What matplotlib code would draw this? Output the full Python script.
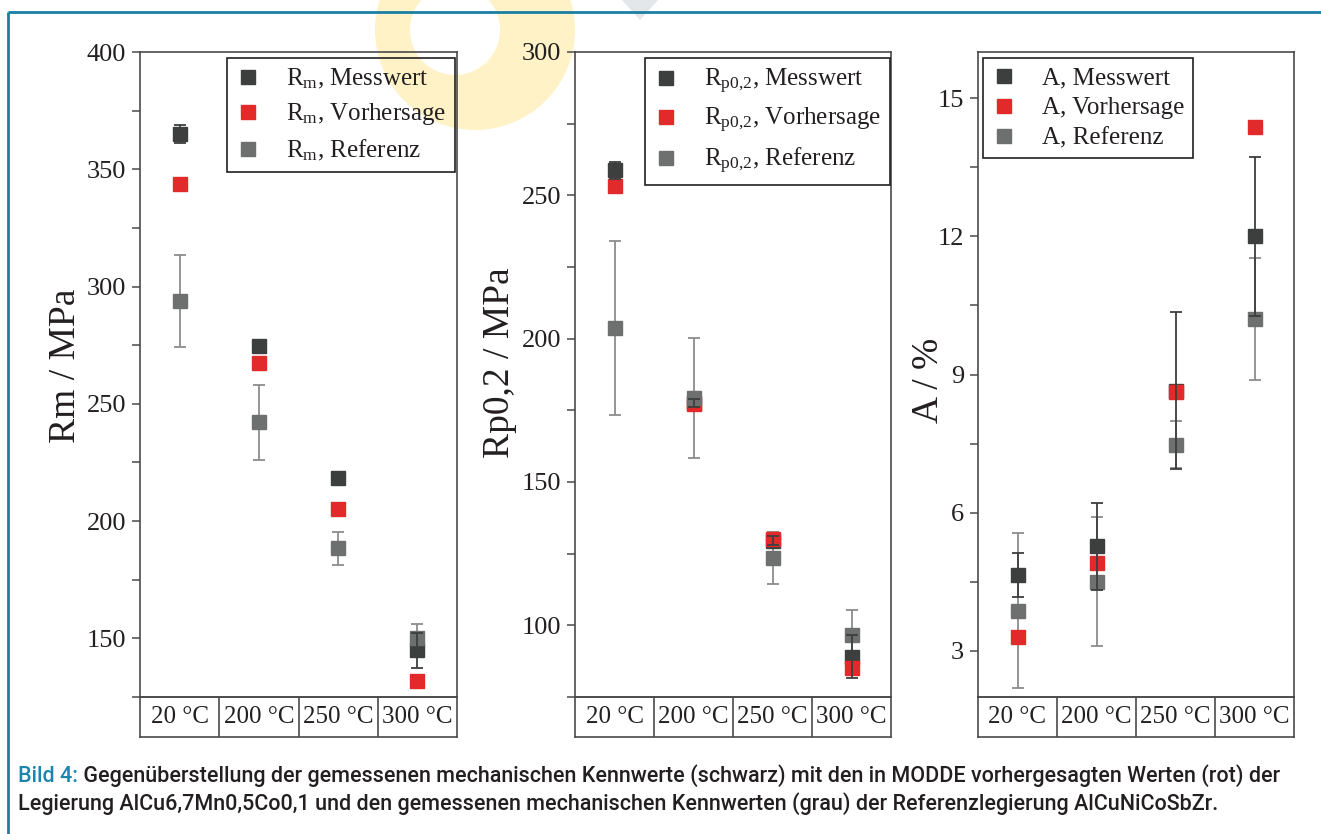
import math
import matplotlib
matplotlib.use('Agg')
import matplotlib.pyplot as plt
from matplotlib.lines import Line2D
from matplotlib.patches import Circle, Polygon

# ---------------- data ----------------
categories = ['20 °C', '200 °C', '250 °C', '300 °C']

rm_mess = [365, 274.6, 218.3, 145]
rm_mess_err = [4, 0, 0, 7.5]
rm_vor = [343.7, 267.3, 205, 132]
rm_ref = [293.8, 242.2, 188.4, 150]
rm_ref_err = [19.5, 16, 7, 6]

rp_mess = [258.8, 177.5, 129.5, 89]
rp_mess_err = [3, 1.5, 1.5, 7.5]
rp_vor = [253.2, 177.3, 130, 85]
rp_ref = [203.7, 179.2, 123.4, 96.5]
rp_ref_err = [30.5, 21, 9, 9]

a_mess = [4.65, 5.27, 8.65, 12.0]
a_mess_err = [0.48, 0.95, 1.71, 1.72]
a_vor = [3.3, 4.9, 8.63, 14.37]
a_ref = [3.87, 4.5, 7.48, 10.21]
a_ref_err = [1.68, 1.4, 0.52, 1.32]

# ---------------- style ----------------
plt.rcParams['font.family'] = ['Liberation Serif', 'DejaVu Serif']
plt.rcParams['mathtext.fontset'] = 'custom'
plt.rcParams['mathtext.rm'] = 'Liberation Serif'
plt.rcParams['mathtext.it'] = 'Liberation Serif:italic'

W, H = 1321, 834
fig = plt.figure(figsize=(W / 100, H / 100), dpi=100)

C_MESS = '#3c3f3e'
C_VOR = '#e32a2a'
C_REF = '#6d706f'
C_REF_BAR = '#8c8c8c'
C_SPINE = '#4a4a4a'
TEAL = '#1a7ea3'
TXT = '#231f20'

# background decoration axes (pixel coords)
bg = fig.add_axes([0, 0, 1, 1], zorder=-10)
bg.set_xlim(0, W)
bg.set_ylim(H, 0)
bg.axis('off')
bg.add_patch(Circle((475, 30), 100, color='#fff2c6', lw=0))
bg.add_patch(Circle((455, 30), 45, color='white', lw=0))
bg.add_patch(Polygon([(622, 0), (658, 0), (640, 20)], color='#e4e7ea', lw=0))
bg.plot([8, W], [12, 12], color=TEAL, lw=2.0, solid_capstyle='butt')
bg.plot([8, 8], [12, H], color=TEAL, lw=2.0, solid_capstyle='butt')


def rect(x0, y0, x1, y1):
    return [x0 / W, 1 - y1 / H, (x1 - x0) / W, (y1 - y0) / H]


def multiples(lo, hi, step):
    k0 = math.ceil(lo / step - 1e-9)
    k1 = math.floor(hi / step + 1e-9)
    return [k * step for k in range(k0, k1 + 1)]


panels = [
    dict(x0=140, x1=457, ylim=(125, 400), major=50, minor=25,
         mess=rm_mess, mess_err=rm_mess_err, vor=rm_vor, ref=rm_ref, ref_err=rm_ref_err,
         sym=r'R$_\mathrm{m}$', ylabel='Rm / MPa', ylab_xy=(66, 366),
         leg=(227, 58), lspace=0.42),
    dict(x0=575, x1=891, ylim=(75, 300), major=50, minor=25,
         mess=rp_mess, mess_err=rp_mess_err, vor=rp_vor, ref=rp_ref, ref_err=rp_ref_err,
         sym=r'R$_\mathrm{p0{,}2}$', ylabel='Rp0,2 / MPa', ylab_xy=(500, 363),
         leg=(645, 58), lspace=0.42),
    dict(x0=978, x1=1294, ylim=(2, 16), major=3, minor=1.5,
         mess=a_mess, mess_err=a_mess_err, vor=a_vor, ref=a_ref, ref_err=a_ref_err,
         sym='A', ylabel='A / %', ylab_xy=(929, 380),
         leg=(983, 58), lspace=0.3),
]

x = list(range(len(categories)))
MS = 10
CAP = 4.6

for p in panels:
    ax = fig.add_axes(rect(p['x0'], 52, p['x1'], 697))
    ax.set_facecolor('none')
    ax.set_xlim(-0.5, len(categories) - 0.5)
    ax.set_ylim(*p['ylim'])

    ax.errorbar(x, p['ref'], yerr=p['ref_err'], fmt='none', ecolor=C_REF_BAR,
                elinewidth=1.3, capsize=CAP, capthick=1.3, zorder=2)
    ax.plot(x, p['mess'], 's', color=C_MESS, ms=MS, mec=C_MESS, zorder=3)
    ax.plot(x, p['vor'], 's', color=C_VOR, ms=MS, mec=C_VOR, zorder=4)
    ax.plot(x, p['ref'], 's', color=C_REF, ms=MS, mec=C_REF, zorder=5)
    ax.errorbar(x, p['mess'], yerr=p['mess_err'], fmt='none', ecolor=C_MESS,
                elinewidth=1.3, capsize=CAP, capthick=1.3, zorder=6)

    for s in ax.spines.values():
        s.set_color(C_SPINE)
        s.set_linewidth(1.2)
    ax.set_xticks([])
    lo, hi = p['ylim']
    maj = multiples(lo, hi, p['major'])
    mino = multiples(lo, hi, p['minor'])
    ax.set_yticks(maj)
    ax.set_yticks(mino, minor=True)
    ax.set_yticklabels([f'{t:g}' for t in maj])
    ax.tick_params(axis='y', which='both', direction='out', length=6, width=1.1,
                   color=C_SPINE, labelsize=19, pad=4, labelcolor=TXT)

    handles = [Line2D([], [], ls='none', marker='s', ms=MS, color=C_MESS),
               Line2D([], [], ls='none', marker='s', ms=MS, color=C_VOR),
               Line2D([], [], ls='none', marker='s', ms=MS, color=C_REF)]
    labels = [p['sym'] + ', Messwert', p['sym'] + ', Vorhersage', p['sym'] + ', Referenz']
    lx0, ly0 = p['leg']
    leg = ax.legend(handles, labels, loc='upper left',
                    bbox_to_anchor=(lx0 / W, 1 - ly0 / H),
                    bbox_transform=fig.transFigure, borderaxespad=0,
                    fontsize=18, frameon=True, fancybox=False, framealpha=1,
                    facecolor='none', edgecolor=TXT, handlelength=1.0,
                    handletextpad=1.0, borderpad=0.35, labelspacing=p['lspace'])
    leg.get_frame().set_linewidth(1.2)
    leg.get_frame().set_facecolor('none')
    for t in leg.get_texts():
        t.set_color(TXT)

    cb = fig.add_axes(rect(p['x0'], 697, p['x1'], 737))
    cb.set_facecolor('none')
    cb.set_xlim(-0.5, len(categories) - 0.5)
    cb.set_ylim(0, 1)
    cb.set_xticks([])
    cb.set_yticks([])
    for s in cb.spines.values():
        s.set_color(C_SPINE)
        s.set_linewidth(1.2)
    for i, c in enumerate(categories):
        cb.text(i, 0.5, c, ha='center', va='center', fontsize=18, color=TXT)
        if i > 0:
            cb.axvline(i - 0.5, color=C_SPINE, lw=1.2)

    fig.text(p['ylab_xy'][0] / W, 1 - p['ylab_xy'][1] / H, p['ylabel'],
             rotation=90, ha='center', va='center', fontsize=27, color=TXT)

# ---------------- caption ----------------
cap_font = ['Liberation Sans Narrow', 'Roboto', 'DejaVu Sans']
cap_w = 'medium'
line1_a = 'Bild 4:'
line1_b = (' Gegenüberstellung der gemessenen mechanischen Kennwerte (schwarz) mit den in '
           'MODDE vorhergesagten Werten (rot) der')
line2 = ('Legierung AlCu6,7Mn0,5Co0,1 und den gemessenen mechanischen Kennwerten (grau) '
         'der Referenzlegierung AlCuNiCoSbZr.')

fig.canvas.draw()
r = fig.canvas.get_renderer()
probe = fig.text(0, 0, line1_a + line1_b, fontsize=12, family=cap_font, weight=cap_w)
wprobe = probe.get_window_extent(r).width
probe.remove()
cap_size = 12 * (1258 / wprobe)

ta = fig.text(18 / W, 1 - 776 / H, line1_a, fontsize=cap_size, family=cap_font,
              weight=cap_w, color='#1a86b0', va='center', ha='left')
fig.canvas.draw()
wa = ta.get_window_extent(r).x1
fig.text(wa / W, 1 - 776 / H, line1_b, fontsize=cap_size, family=cap_font,
         weight=cap_w, color=TXT, va='center', ha='left')
fig.text(18 / W, 1 - 804 / H, line2, fontsize=cap_size, family=cap_font,
         weight=cap_w, color=TXT, va='center', ha='left')

fig.savefig('out.png', dpi=100)
